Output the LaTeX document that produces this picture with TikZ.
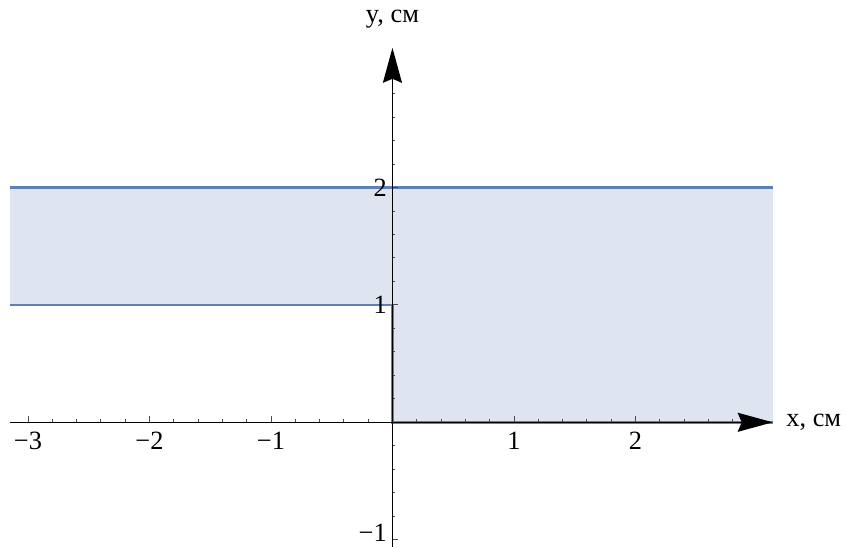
\documentclass[tikz,border=0pt]{standalone}
\usepackage{fontspec}
\setmainfont{Liberation Serif}
\usepackage{xcolor}
\usepackage{tikz}
\usetikzlibrary{positioning,arrows.meta}
\definecolor{bandline}{RGB}{94,129,181}
\definecolor{bandfill}{RGB}{223,229,240}

\begin{document}
\begin{tikzpicture}[x=2.43cm,y=2.348cm,font=\fontsize{15}{17}\selectfont,
		axisline/.style={line width=0.9pt,-{Stealth[length=0.7cm,width=0.38cm,inset=0.08cm]}},
		bandedge/.style={bandline,line width=1.4pt},
		ticklab/.style={inner sep=1pt}]
				\useasboundingbox (-3.230,-1.054) rectangle (3.733,3.597);
				
				\fill[bandfill] (-3.15,1) rectangle (0,2);
				\fill[bandfill] (0,0) rectangle (3.13,2);
				
				\draw[bandedge] (-3.15,2) -- (3.13,2);
				\draw[bandedge] (-3.15,1) -- (0,1) -- (0,0) -- (3.13,0);
				
				% ticks
				\foreach \i in {-15,...,14}
					\draw[black!70,line width=0.5pt] (\i/5,0) -- ++(0,0.06cm);
				\foreach \i in {-3,-2,-1,1,2}
					\draw[black!70,line width=0.5pt] (\i,0) -- ++(0,0.12cm);
				\foreach \i in {-5,-4,...,15}
					\draw[black!70,line width=0.5pt] (0,\i/5) -- ++(0.06cm,0);
				\foreach \i in {-1,1,2}
					\draw[black!70,line width=0.5pt] (0,\i) -- ++(0.12cm,0);
				
				\coordinate (xstart) at (-3.15,0);
				\coordinate (xend) at (3.13,0);
				\coordinate (ystart) at (0,-1.07);
				\coordinate (yend) at (0,3.19);
				\draw[axisline] (xstart) -- (xend);
				\draw[axisline] (ystart) -- (yend);
				
				\node[right=0.15cm of xend] (xlabel) {x, см};
				\node (ylabel) at (0,3.43) {y, см};
				
				\node[ticklab] (xtm3) at (-3,-0.16) {−3};
				\node[ticklab] (xtm2) at (-2,-0.16) {−2};
				\node[ticklab] (xtm1) at (-1,-0.16) {−1};
				\node[ticklab] (xt1) at (1,-0.16) {1};
				\node[ticklab] (xt2) at (2,-0.16) {2};
				\node[ticklab,anchor=east] (yt2) at (-0.03,2) {2};
				\node[ticklab,anchor=east] (yt1) at (-0.03,1) {1};
				\node[ticklab,anchor=east] (ytm1) at (-0.03,-0.945) {−1};
			\end{tikzpicture}
\end{document}
